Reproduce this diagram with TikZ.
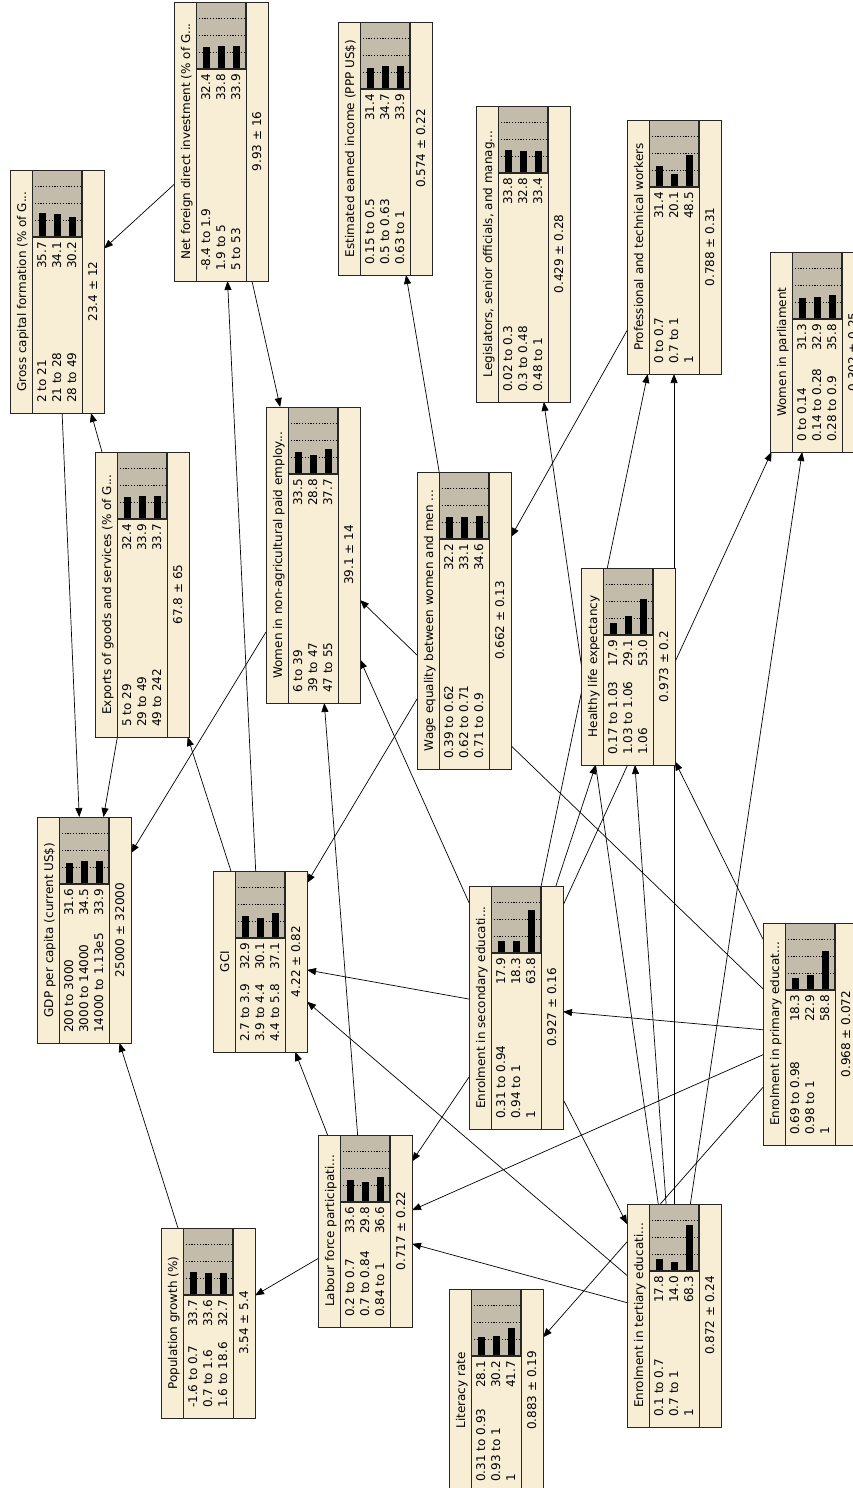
\documentclass[tikz,border=0pt]{standalone}
\usepackage{fontspec}
\setmainfont{DejaVu Sans}
\usetikzlibrary{arrows.meta}
\definecolor{bnfill}{RGB}{248,238,214}
\definecolor{bnshade}{RGB}{196,188,170}
\pgfdeclarelayer{background}
\pgfsetlayers{background,main}
\tikzset{
  bnbox/.style={draw=black!85, line width=0.8pt, fill=bnfill, minimum width=94pt, inner sep=0pt, outer sep=0pt},
  bnline/.style={draw=black!85, line width=0.8pt},
  bngrid/.style={black, line width=0.6pt, dash pattern=on 1.2pt off 1.6pt},
  bntext/.style={rotate=90, inner sep=0pt, font=\fontsize{12}{14}\selectfont},
  bnarrow/.style={draw=black, line width=0.7pt, -{Triangle[length=9pt,width=7pt]}},
}
% belief box: (name)(left,top,height){title}{state/percent,...}{mean}
\def\bnnode(#1)(#2,#3,#4)#5#6#7{%
  \node[bnbox, minimum height=#4pt] (#1) at (#2+47,#3+#4/2) {};
  \begin{scope}[shift={(#2,#3)}]
    \fill[bnshade] (22,0) rectangle (72,67);
    \foreach \q in {16.75,33.5,50.25} \draw[bngrid] (22,\q) -- (72,\q);
    \foreach \s/\p [count=\i from 0] in {#6} {
      \fill (28.5+15*\i,67) rectangle ++(7,-0.67*\p);
      \node[bntext, anchor=base west] at (36+15*\i,#4-10) {\s};
      \node[bntext, anchor=base east] at (36+15*\i,72) {\p};
    }
    \draw[bnline] (22,0) -- (22,#4) (72,0) -- (72,#4);
    \draw[bnline, line width=1.6pt] (22,67) -- (72,67) -- (72,0);
    \node[bntext, anchor=base] at (16,#4/2) {#5};
    \node[bntext, anchor=base] at (87,#4/2) {#7};
  \end{scope}
  \draw[bnline] (#1.north west) rectangle (#1.south east);
}

\begin{document}
\begin{tikzpicture}[x=1pt, y=-1pt]
		%%%%% START %%%%%
		\useasboundingbox (0,0) rectangle (853,1488);
		
		\bnnode(gcf)(10,170,243){Gross capital formation (\% of G...}{2 to 21/35.7, 21 to 28/34.1, 28 to 49/30.2}{23.4 ± 12}
		\bnnode(nfdi)(174,2,279){Net foreign direct investment (\% of G...}{-8.4 to 1.9/32.4, 1.9 to 5/33.8, 5 to 53/33.9}{9.93 ± 16}
		\bnnode(eei)(338,22,253){Estimated earned income (PPP US\$)}{0.15 to 0.5/31.4, 0.5 to 0.63/34.7, 0.63 to 1/33.9}{0.574 ± 0.22}
		\bnnode(leg)(476,106,296){Legislators, senior officials, and manag...}{0.02 to 0.3/33.8, 0.3 to 0.48/32.8, 0.48 to 1/33.4}{0.429 ± 0.28}
		\bnnode(ptw)(627,120,254){Professional and technical workers}{0 to 0.7/31.4, 0.7 to 1/20.1, 1/48.5}{0.788 ± 0.31}
		\bnnode(wip)(770,252,200){Women in parliament}{0 to 0.14/31.3, 0.14 to 0.28/32.9, 0.28 to 0.9/35.8}{0.302 ± 0.25}
		
		\bnnode(wna)(266,407,296){Women in non-agricultural paid employ...}{6 to 39/33.5, 39 to 47/28.8, 47 to 55/37.7}{39.1 ± 14}
		\bnnode(egs)(95,452,285){Exports of goods and services (\% of G...}{5 to 29/32.4, 29 to 49/33.9, 49 to 242/33.7}{67.8 ± 65}
		\bnnode(weq)(417,472,297){Wage equality between women and men ...}{0.39 to 0.62/32.2, 0.62 to 0.71/33.1, 0.71 to 0.9/34.6}{0.662 ± 0.13}
		\bnnode(hle)(581,568,197){Healthy life expectancy}{0.17 to 1.03/17.9, 1.03 to 1.06/29.1, 1.06/53.0}{0.973 ± 0.2}
		
		\bnnode(gdp)(37,817,226){GDP per capita (current US\$)}{200 to 3000/31.6, 3000 to 14000/34.5, 14000 to 1.13e5/33.9}{25000 ± 32000}
		\bnnode(gci)(213,871,181){GCI}{2.7 to 3.9/32.9, 3.9 to 4.4/30.1, 4.4 to 5.8/37.1}{4.22 ± 0.82}
		\bnnode(ses)(469,886,243){Enrolment in secondary educati...}{0.31 to 0.94/17.9, 0.94 to 1/18.3, 1/63.8}{0.927 ± 0.16}
		\bnnode(pes)(763,923,222){Enrolment in primary educat...}{0.69 to 0.98/18.3, 0.98 to 1/22.9, 1/58.8}{0.968 ± 0.072}
		
		\bnnode(lfp)(318,1135,192){Labour force participati...}{0.2 to 0.7/33.6, 0.7 to 0.84/29.8, 0.84 to 1/36.6}{0.717 ± 0.22}
		\bnnode(pgr)(161,1228,190){Population growth (\%)}{-1.6 to 0.7/33.7, 0.7 to 1.6/33.6, 1.6 to 18.6/32.7}{3.54 ± 5.4}
		\bnnode(lit)(449,1289,203){Literacy rate}{0.31 to 0.93/28.1, 0.93 to 1/30.2, 1/41.7}{0.883 ± 0.19}
		\bnnode(tes)(627,1204,223){Enrolment in tertiary educati...}{0.1 to 0.7/17.8, 0.7 to 1/14.0, 1/68.3}{0.872 ± 0.24}
		
		% links, behind the boxes
		\begin{pgfonlayer}{background}
		\draw[bnarrow] (nfdi) -- (gcf);
		\draw[bnarrow] (nfdi) -- (wna);
		\draw[bnarrow] (gci) -- (nfdi);
		\draw[bnarrow] (gcf) -- (gdp);
		\draw[bnarrow] (egs) -- (gcf);
		\draw[bnarrow] (egs) -- (gdp);
		\draw[bnarrow] (gci) -- (egs);
		\draw[bnarrow] (wna) -- (gdp);
		\draw[bnarrow] (lfp) -- (wna);
		\draw[bnarrow] (pes) -- (wna);
		\draw[bnarrow] (ses) -- (wna);
		\draw[bnarrow] (weq) -- (gci);
		\draw[bnarrow] (ses) -- (gci);
		\draw[bnarrow] (tes) -- (gci);
		\draw[bnarrow] (lfp) -- (gci);
		\draw[bnarrow] (pgr) -- (gdp);
		\draw[bnarrow] (lfp) -- (pgr);
		\draw[bnarrow] (ses) -- (lfp);
		\draw[bnarrow] (pes) -- (lfp);
		\draw[bnarrow] (tes) -- (lfp);
		\draw[bnarrow] (pes) -- (ses);
		\draw[bnarrow] (ses) -- (tes);
		\draw[bnarrow] (pes) -- (lit);
		\draw[bnarrow] (weq) -- (eei);
		\draw[bnarrow] (ptw) -- (weq);
		\draw[bnarrow] (ses) -- (ptw);
		\draw[bnarrow] (tes) -- (ptw);
		\draw[bnarrow] (ses) -- (hle);
		\draw[bnarrow] (tes) -- (hle);
		\draw[bnarrow] (pes) -- (hle);
		\draw[bnarrow] (ses) -- (wip);
		\draw[bnarrow] (tes) -- (wip);
		\draw[bnarrow] (tes) -- (leg);
		\end{pgfonlayer}
		
		%%%%% END %%%%%
\end{tikzpicture}
\end{document}
